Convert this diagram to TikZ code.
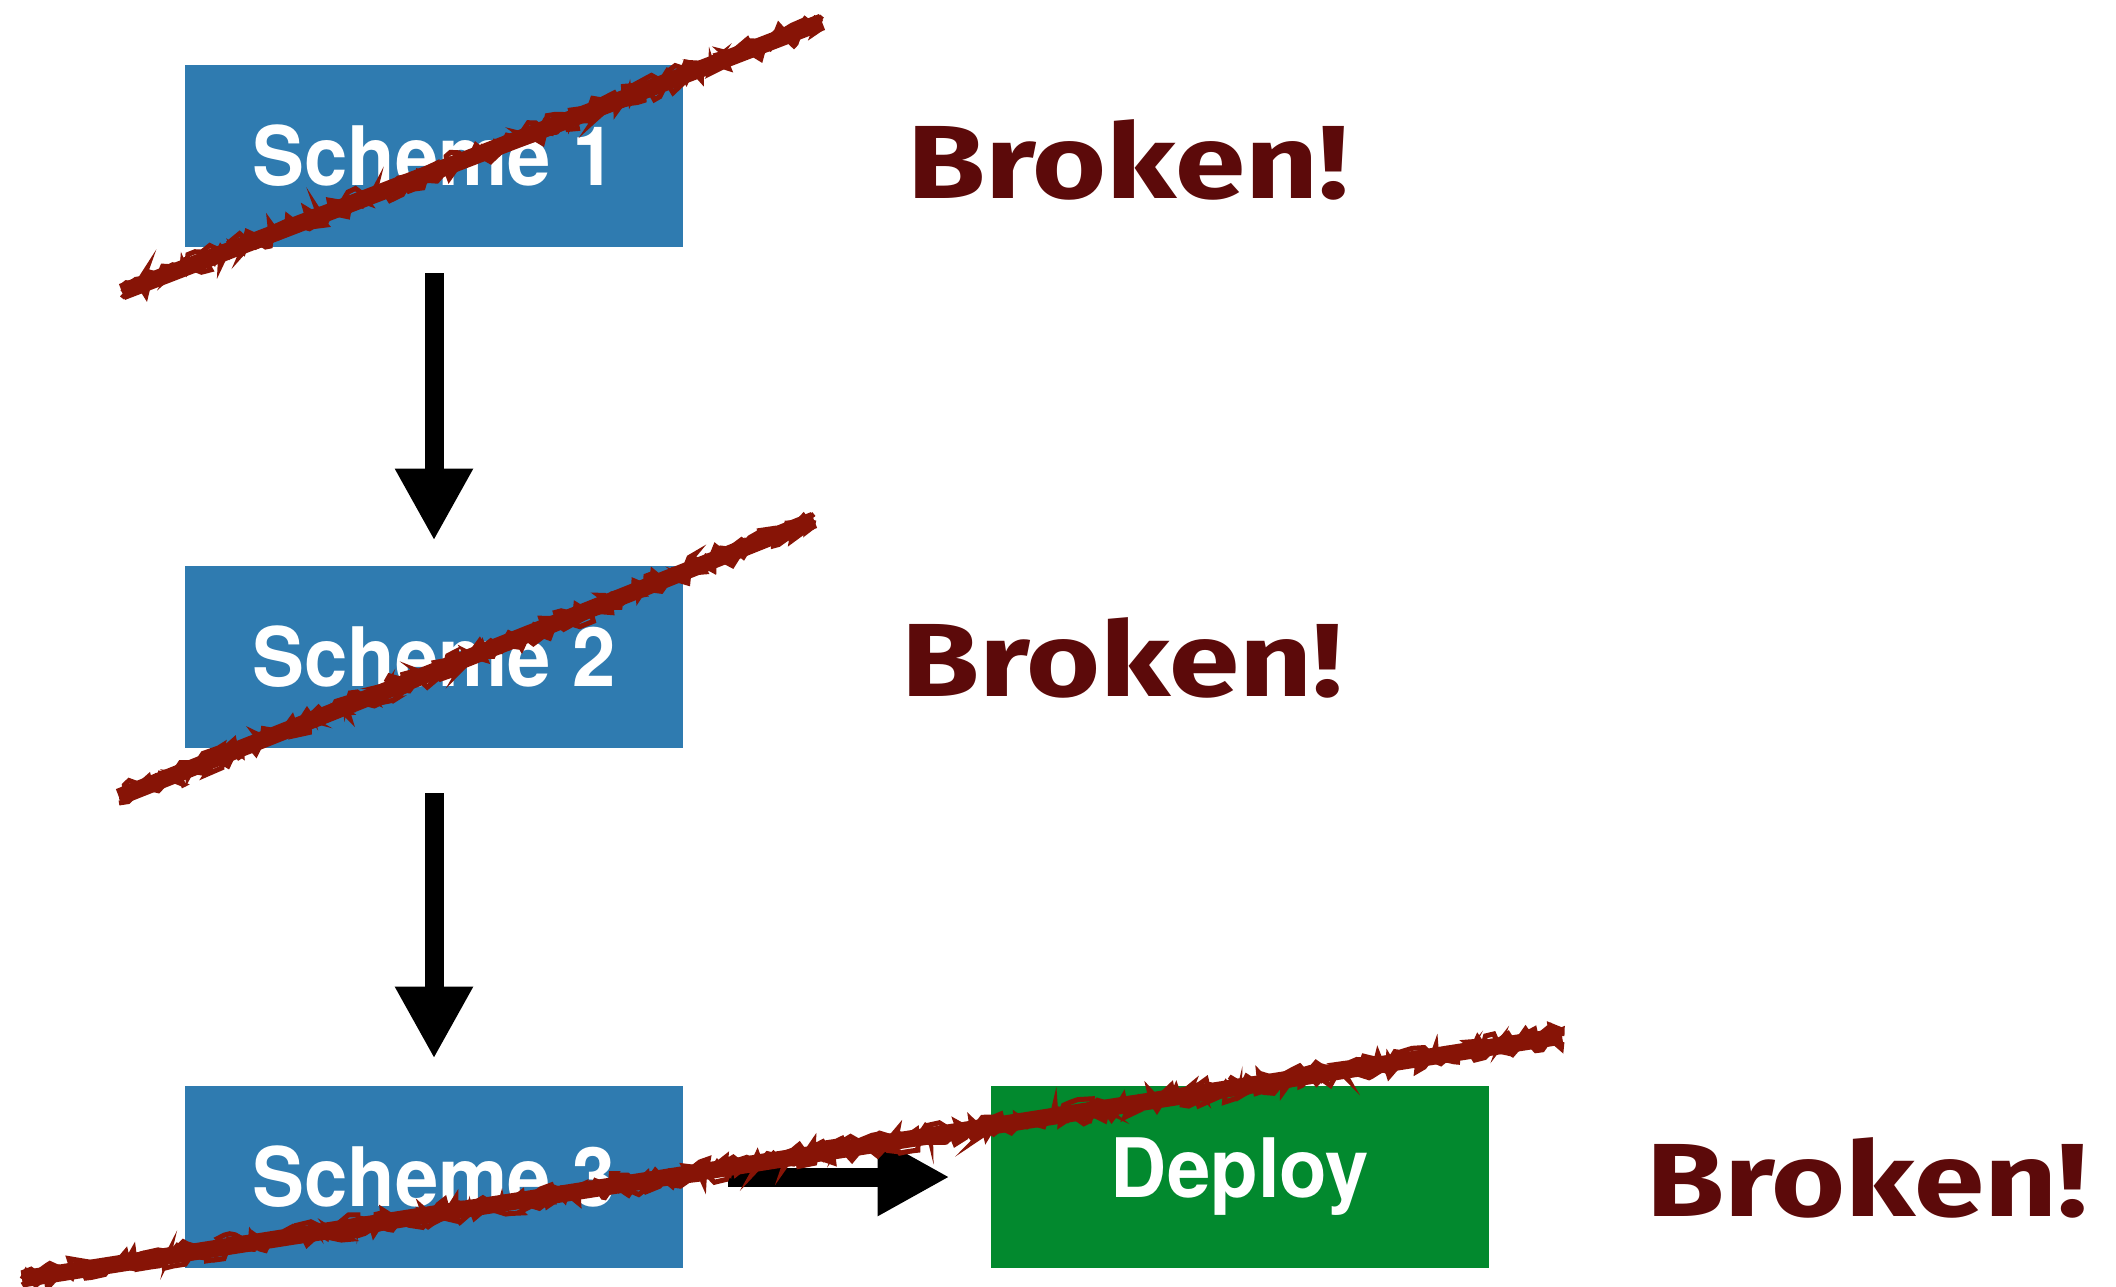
\documentclass[tikz,border=0pt]{standalone}
\usepackage{fontspec}
\usepackage{graphicx}
\usetikzlibrary{arrows.meta,decorations.pathmorphing}
\newfontfamily\boxfont{TeX Gyre Heros}
\newfontfamily\notefont{Fira Sans}
\definecolor{schemeblue}{RGB}{47,123,176}
\definecolor{deploygreen}{RGB}{2,137,46}
\definecolor{notered}{RGB}{92,10,10}
\definecolor{strikered}{RGB}{135,20,6}
\tikzset{
  stagebox/.style={rectangle, inner sep=0pt, minimum width=249pt, minimum height=91pt,
    text=white, font=\boxfont\bfseries\fontsize{41}{41}\selectfont},
  schemebox/.style={stagebox, fill=schemeblue},
  deploybox/.style={stagebox, fill=deploygreen},
  flowarrow/.style={draw=black, line width=9.5pt,
    -{Triangle[width=36.5pt,length=36pt]}},
  note/.style={text=notered, inner sep=0pt,
    font=\notefont\bfseries\fontsize{52}{52}\selectfont},
  strikecore/.style={draw=strikered, line width=8.5pt},
  strikerough/.style={draw=strikered, line width=2.5pt,
    decorate, decoration={random steps, segment length=3pt, amplitude=3.5pt}}
}
\newcommand{\strikeout}[2]{%
  \draw[strikecore] (#1) -- (#2);
  \draw[strikerough, yshift=3pt] (#1) -- (#2);
  \draw[strikerough] (#1) -- (#2);
  \draw[strikerough, yshift=-3pt] (#1) -- (#2);
}
\begin{document}
\begin{tikzpicture}[x=0.5pt, y=-0.5pt]
  \pgfmathsetseed{7}
  \useasboundingbox (0,0) rectangle (2116,1286);

  % pipeline stages
  \node[schemebox] (s1) at (434,156) {\scalebox{0.95}[1]{Scheme 1}};
  \node[schemebox] (s2) at (434,657) {\scalebox{0.95}[1]{Scheme 2}};
  \node[schemebox] (s3) at (434,1177) {\scalebox{0.95}[1]{Scheme 3}};
  \node[deploybox] (dep) at (1240,1177) {\scalebox{0.95}[1]{Deploy}};

  % flow between stages
  \draw[flowarrow, shorten <=13pt, shorten >=12.5pt] (s1.south) -- (s2.north);
  \draw[flowarrow, shorten <=22.5pt, shorten >=13.5pt] (s2.south) -- (s3.north);
  \draw[flowarrow, shorten <=22.5pt, shorten >=20.5pt] (s3.east) -- (dep.west);

  % crossed-out stages
  \strikeout{122,292}{822,22}
  \strikeout{119,797}{814,520}
  \strikeout{22,1279}{1562,1036}

  % remarks
  \node[note] (b1) at (1128,160) {\scalebox{1.22}[1]{Broken!}};
  \node[note] (b2) at (1122,658) {\scalebox{1.22}[1]{Broken!}};
  \node[note] (b3) at (1867,1178) {\scalebox{1.22}[1]{Broken!}};
\end{tikzpicture}
\end{document}
